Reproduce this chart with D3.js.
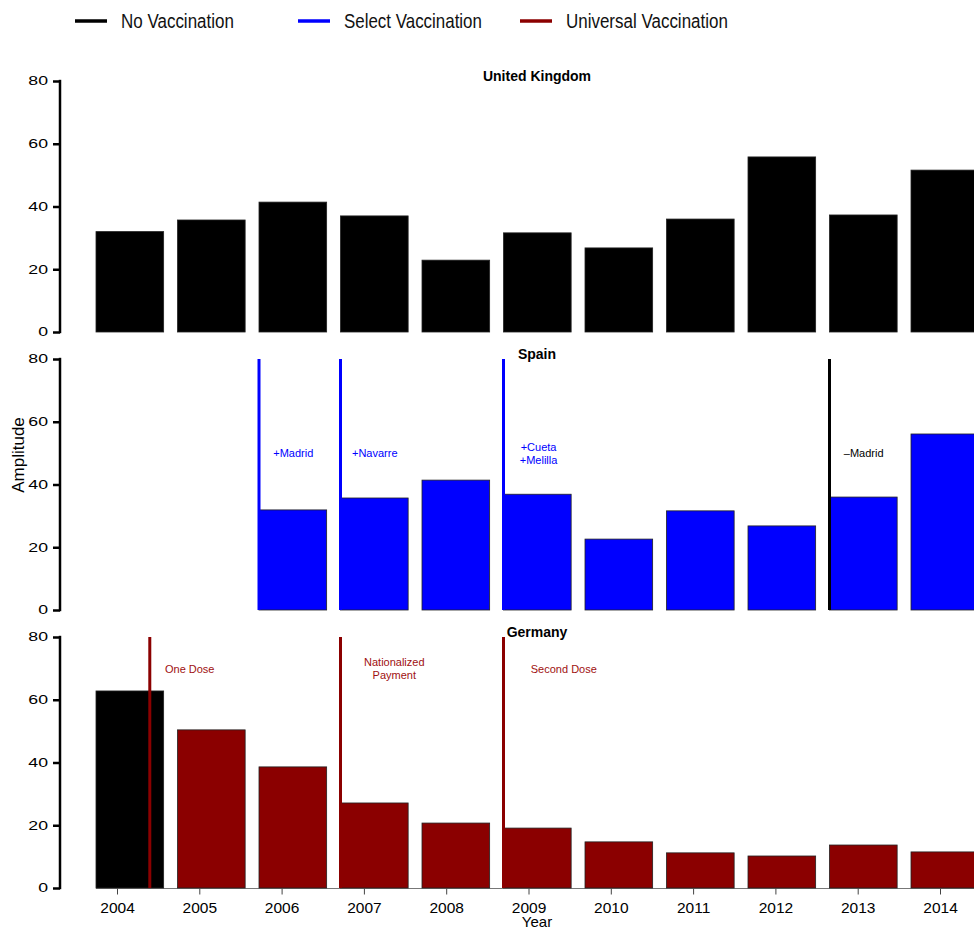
<!DOCTYPE html>
<html>
<head>
<meta charset="utf-8">
<script src="https://cdn.jsdelivr.net/npm/d3@7"></script>
<style>
  html, body { margin: 0; padding: 0; background: #fff; }
  svg { display: block; font-family: "Liberation Sans", Arial, Helvetica, sans-serif; }
</style>
</head>
<body>
<svg id="chart" width="974" height="930"></svg>
<script>
// Yearly amplitude by country and vaccination policy
const years = [2004, 2005, 2006, 2007, 2008, 2009, 2010, 2011, 2012, 2013, 2014];
const yTicks = [0, 20, 40, 60, 80];

const ukValues      = [32.0, 35.7, 41.4, 37.0, 22.9, 31.6, 26.8, 36.0, 55.8, 37.3, 51.6];
const spainValues   = [null, null, 31.9, 35.7, 41.4, 36.9, 22.6, 31.6, 26.8, 36.0, 56.1];
const germanyValues = [62.8, 50.4, 38.6, 27.1, 20.7, 19.1, 14.7, 11.2, 10.2, 13.7, 11.5];

const ukStatus      = ["none", "none", "none", "none", "none", "none", "none", "none", "none", "none", "none"];
const spainStatus   = ["select", "select", "select", "select", "select", "select", "select", "select", "select", "select", "select"];
const germanyStatus = ["none", "universal", "universal", "universal", "universal", "universal", "universal", "universal", "universal", "universal", "universal"];

// Policy changes: line position (year), label position (year), label value, text lines
const spainEvents = [
  { at: 2006, labelAt: 2006.42, labelValue: 50, status: "select", text: ["+Madrid"] },
  { at: 2007, labelAt: 2007.42, labelValue: 50, status: "select", text: ["+Navarre"] },
  { at: 2009, labelAt: 2009.43, labelValue: 50, status: "select", text: ["+Cueta", "+Melilla"] },
  { at: 2013, labelAt: 2013.42, labelValue: 50, status: "none",   text: ["\u2013Madrid"] }
];
const germanyEvents = [
  { at: 2004.66, labelAt: 2005.15, labelValue: 70, status: "universal", text: ["One Dose"] },
  { at: 2007,    labelAt: 2007.66, labelValue: 70, status: "universal", text: ["Nationalized", "Payment"] },
  { at: 2009,    labelAt: 2009.74, labelValue: 70, status: "universal", text: ["Second Dose"] }
];

const legendLabels = ["No Vaccination", "Select Vaccination", "Universal Vaccination"];
const legendKeys   = ["none", "select", "universal"];
const colors = { none: "#000000", select: "#0000ff", universal: "#8b0000" };

const panels = [
  { title: "United Kingdom", values: ukValues,      status: ukStatus,      events: [],            top: 81 },
  { title: "Spain",          values: spainValues,   status: spainStatus,   events: spainEvents,   top: 359 },
  { title: "Germany",        values: germanyValues, status: germanyStatus, events: germanyEvents, top: 637, xAxis: true }
];

const svg = d3.select("#chart");
const axisX = 60;
const panelH = 251;
const centerX = 537;

// Bars: a year maps to the left edge of its bar
const xBar = d3.scaleLinear().domain([2004, 2005]).range([96, 177.5]);
const barFrac = 0.83;
// Tick labels under the bottom panel
const xTick = d3.scaleLinear().domain([2004, 2014]).range([117, 940]);

panels.forEach((p, pi) => {
  const y = d3.scaleLinear().domain([0, 80]).range([p.top + panelH, p.top]);
  const g = svg.append("g");

  // Baseline for the bottom panel
  if (p.xAxis) {
    g.append("line")
      .attr("x1", xBar(years[0])).attr("x2", 974)
      .attr("y1", y(0) + 0.5).attr("y2", y(0) + 0.5)
      .attr("stroke", "#777").attr("stroke-width", 1);
  }

  // Bars
  const rows = years.map((yr, i) => ({ year: yr, value: p.values[i], status: p.status[i] }))
    .filter(d => d.value != null);
  g.selectAll("rect.bar").data(rows).enter().append("rect")
    .attr("class", "bar")
    .attr("x", d => xBar(d.year))
    .attr("width", d => xBar(d.year + barFrac) - xBar(d.year))
    .attr("y", d => y(d.value))
    .attr("height", d => y(0) - y(d.value))
    .attr("fill", d => colors[d.status])
    .attr("stroke", "#222")
    .attr("stroke-width", 0.8);

  // Policy change lines and labels
  p.events.forEach(ev => {
    g.append("line")
      .attr("x1", xBar(ev.at)).attr("x2", xBar(ev.at))
      .attr("y1", y(80)).attr("y2", y(0))
      .attr("stroke", colors[ev.status]).attr("stroke-width", 3);
    const n = ev.text.length;
    const t = g.append("text")
      .attr("x", xBar(ev.labelAt))
      .attr("y", y(ev.labelValue) + 0.5)
      .attr("text-anchor", "middle")
      .attr("font-size", 11)
      .attr("fill", ev.status === "none" ? "#000" : (ev.status === "select" ? "#0000ff" : "#a01010"));
    ev.text.forEach((line, li) => {
      t.append("tspan")
        .attr("x", xBar(ev.labelAt))
        .attr("dy", li === 0 ? ((0.35 - (n - 1) * 0.6) + "em") : "1.2em")
        .text(line);
    });
  });

  // Panel title
  g.append("text")
    .attr("x", centerX).attr("y", y(80) - 0.5)
    .attr("text-anchor", "middle")
    .attr("font-size", 14).attr("font-weight", "bold")
    .text(p.title);

  // Y axis
  const yAxis = d3.axisLeft(y).tickValues(yTicks).tickSize(7).tickSizeOuter(0);
  const ag = g.append("g").attr("transform", `translate(${axisX},0)`).call(yAxis);
  ag.select(".domain").remove();
  ag.append("line").attr("x1", 0).attr("x2", 0)
    .attr("y1", y(0) + 1.2).attr("y2", y(80) - 1.2)
    .attr("stroke", "#000").attr("stroke-width", 2.5);
  ag.selectAll(".tick line").attr("stroke", "#000").attr("stroke-width", 2.5);
  ag.selectAll(".tick text")
    .attr("font-family", "Liberation Sans, Arial, sans-serif")
    .attr("font-size", 12.2)
    .attr("fill", "#000")
    .attr("x", -12 / 1.45)
    .attr("transform", "scale(1.45,1)");

  // X axis on the bottom panel
  if (p.xAxis) {
    const xAxis = d3.axisBottom(xTick).tickValues(years).tickFormat(d3.format("d")).tickSize(6).tickSizeOuter(0);
    const xg = g.append("g").attr("transform", `translate(0,${y(0) + 0.5})`).call(xAxis);
    xg.select(".domain").remove();
    xg.selectAll(".tick line").attr("stroke", "#444").attr("stroke-width", 1);
    xg.selectAll(".tick text")
      .attr("font-family", "Liberation Sans, Arial, sans-serif")
      .attr("font-size", 15.5)
      .attr("fill", "#000")
      .attr("y", 13).attr("dy", "0.71em");
  }
});

// Axis titles
svg.append("text")
  .attr("x", centerX).attr("y", 927)
  .attr("text-anchor", "middle")
  .attr("font-size", 15)
  .text("Year");
svg.append("text")
  .attr("transform", "translate(24,455) rotate(-90)")
  .attr("text-anchor", "middle")
  .attr("font-size", 17)
  .text("Amplitude");

// Legend
const legendX = [75, 298, 520];
const legendW = [113, 138, 162];
const lg = svg.append("g");
legendKeys.forEach((k, i) => {
  lg.append("line")
    .attr("x1", legendX[i]).attr("x2", legendX[i] + 32)
    .attr("y1", 21).attr("y2", 21)
    .attr("stroke", colors[k]).attr("stroke-width", 3.5);
  const t = lg.append("text")
    .attr("font-size", 21)
    .attr("fill", "#111")
    .text(legendLabels[i]);
  const natural = t.node().getComputedTextLength();
  const sx = legendW[i] / natural;
  t.attr("transform", `translate(${legendX[i] + 46},28) scale(${sx},1)`);
});
</script>
</body>
</html>
